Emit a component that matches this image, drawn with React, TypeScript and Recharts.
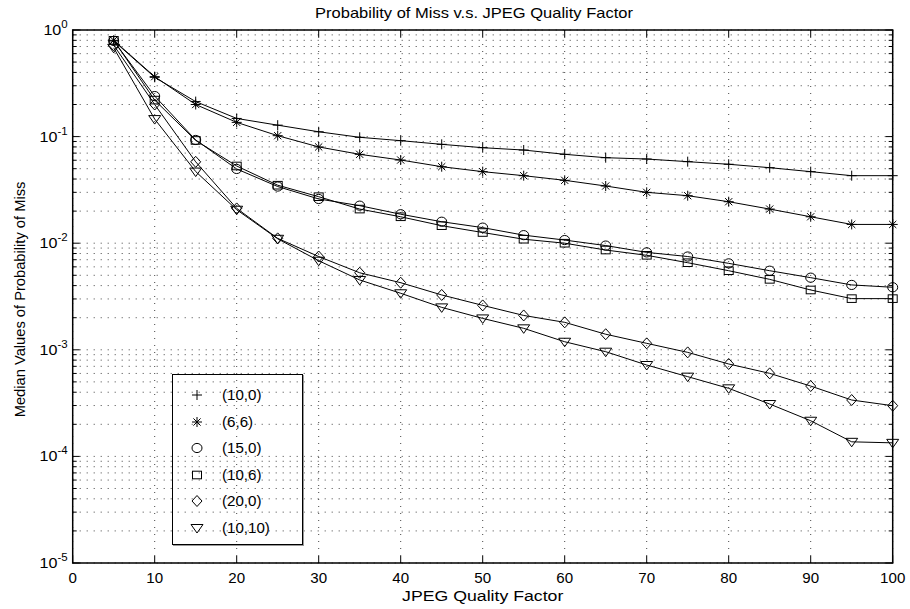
import {
  CartesianGrid,
  Label,
  Legend,
  Line,
  LineChart,
  ReferenceArea,
  XAxis,
  YAxis,
} from "recharts";

// JPEG quality factor (x)
const quality = [5, 10, 15, 20, 25, 30, 35, 40, 45, 50, 55, 60, 65, 70, 75, 80, 85, 90, 95, 100];

// median probability of miss, one list per (a,b) setting
const miss10_0 = [0.79, 0.36, 0.213, 0.148, 0.128, 0.111, 0.0985, 0.0916, 0.0846, 0.0787, 0.0748, 0.0682, 0.0634, 0.0616, 0.0582, 0.055, 0.0511, 0.0469, 0.043, 0.043];
const miss6_6 = [0.8, 0.365, 0.2, 0.136, 0.102, 0.08, 0.0682, 0.0603, 0.0522, 0.0469, 0.043, 0.0389, 0.0344, 0.03, 0.0279, 0.0245, 0.0209, 0.0177, 0.015, 0.015];
const miss15_0 = [0.79, 0.24, 0.093, 0.0497, 0.034, 0.026, 0.0225, 0.0187, 0.0159, 0.014, 0.0119, 0.0107, 0.0095, 0.0082, 0.0075, 0.00647, 0.00552, 0.00475, 0.00406, 0.00386];
const miss10_6 = [0.8, 0.22, 0.092, 0.053, 0.035, 0.0273, 0.0209, 0.0177, 0.0146, 0.0126, 0.0109, 0.01, 0.00863, 0.0077, 0.00656, 0.00552, 0.00458, 0.00364, 0.00302, 0.00302];
const miss20_0 = [0.72, 0.2, 0.058, 0.0212, 0.0111, 0.0075, 0.00528, 0.00426, 0.00327, 0.00261, 0.0021, 0.00181, 0.0014, 0.00115, 0.000946, 0.000736, 0.000601, 0.000457, 0.000338, 0.000299];
const miss10_10 = [0.68, 0.146, 0.047, 0.0206, 0.011, 0.00685, 0.00452, 0.00339, 0.0025, 0.00197, 0.00159, 0.00119, 0.00096, 0.00072, 0.00056, 0.000435, 0.00031, 0.000216, 0.000137, 0.000134];

const seriesNames = ["(10,0)", "(6,6)", "(15,0)", "(10,6)", "(20,0)", "(10,10)"];

const xTicks = [0, 10, 20, 30, 40, 50, 60, 70, 80, 90, 100];
const yDecades = [-5, -4, -3, -2, -1, 0];

const FONT = "'Liberation Sans', Arial, Helvetica, sans-serif";
const PLOT_TOP = 30;
const PLOT_RIGHT = 892.7;

const series = [
  { key: "s10_0", name: seriesNames[0], values: miss10_0, marker: "plus" },
  { key: "s6_6", name: seriesNames[1], values: miss6_6, marker: "star" },
  { key: "s15_0", name: seriesNames[2], values: miss15_0, marker: "circle" },
  { key: "s10_6", name: seriesNames[3], values: miss10_6, marker: "square" },
  { key: "s20_0", name: seriesNames[4], values: miss20_0, marker: "diamond" },
  { key: "s10_10", name: seriesNames[5], values: miss10_10, marker: "triangle" },
];

const data = quality.map((q, i) => {
  const row: Record<string, number> = { q };
  series.forEach((s) => {
    row[s.key] = s.values[i];
  });
  return row;
});

// log axis: majors at decades, minors 2..9
const yTicks = yDecades.flatMap((d) =>
  d === 0 ? [1] : [1, 2, 3, 4, 5, 6, 7, 8, 9].map((k) => k * Math.pow(10, d))
);

const Marker = ({ kind, cx, cy }: { kind: string; cx: number; cy: number }) => {
  const st = { stroke: "#000", strokeWidth: 1, fill: "none" };
  if (kind === "plus")
    return <path d={`M${cx - 5},${cy}H${cx + 5}M${cx},${cy - 5}V${cy + 5}`} {...st} />;
  if (kind === "star")
    return (
      <path
        d={`M${cx - 5},${cy}H${cx + 5}M${cx},${cy - 5}V${cy + 5}M${cx - 3.6},${cy - 3.6}L${cx + 3.6},${cy + 3.6}M${cx - 3.6},${cy + 3.6}L${cx + 3.6},${cy - 3.6}`}
        {...st}
      />
    );
  if (kind === "circle") return <ellipse cx={cx} cy={cy} rx={5} ry={4.6} {...st} />;
  if (kind === "square") return <rect x={cx - 4.5} y={cy - 3.8} width={9} height={7.6} {...st} />;
  if (kind === "diamond")
    return <path d={`M${cx},${cy - 5.5}L${cx + 5},${cy}L${cx},${cy + 5.5}L${cx - 5},${cy}Z`} {...st} />;
  return <path d={`M${cx - 6},${cy - 3.5}L${cx + 6},${cy - 3.5}L${cx},${cy + 5}Z`} {...st} />;
};

const XTick = (props: any) => {
  const { x, y, payload } = props;
  return (
    <g>
      <line x1={x} x2={x} y1={y} y2={y - 7} stroke="#000" />
      <line x1={x} x2={x} y1={PLOT_TOP} y2={PLOT_TOP + 7} stroke="#000" />
      <text
        transform={`translate(${x}, ${y + 20}) scale(1.08, 1)`}
        textAnchor="middle"
        fontSize={14}
        fontFamily={FONT}
        fill="#000"
      >
        {payload.value}
      </text>
    </g>
  );
};

const YTick = (props: any) => {
  const { x, y, payload } = props;
  const lg = Math.log10(payload.value);
  const e = Math.round(lg);
  const major = Math.abs(lg - e) < 1e-6;
  const len = major ? 7 : 4;
  return (
    <g>
      <line x1={x} x2={x + len} y1={y} y2={y} stroke="#000" />
      <line x1={PLOT_RIGHT} x2={PLOT_RIGHT - len} y1={y} y2={y} stroke="#000" />
      {major && (
        <text
          transform={`translate(${x - 5}, ${y + 5}) scale(1.15, 1)`}
          textAnchor="end"
          fontSize={14}
          fontFamily={FONT}
          fill="#000"
        >
          10
          <tspan dy={-7} fontSize={10}>
            {e}
          </tspan>
        </text>
      )}
    </g>
  );
};

const LegendBox = (props: any) => {
  const payload = [...(props.payload || [])].sort(
    (a: any, b: any) =>
      series.findIndex((s) => s.key === a.dataKey) - series.findIndex((s) => s.key === b.dataKey)
  );
  return (
    <div
      style={{
        width: 131,
        height: 171,
        border: "1px solid #000",
        boxSizing: "border-box",
        boxShadow: "1px 1px 0 #999",
        position: "relative",
        fontFamily: FONT,
        fontSize: 14,
      }}
    >
      {payload.map((p: any, i: number) => {
        const s = series.find((d) => d.key === p.dataKey);
        return (
          <div
            key={p.value}
            style={{ position: "absolute", left: 0, top: 9 + i * 26.6, height: 22, display: "flex", alignItems: "center" }}
          >
            <svg width={46} height={22}>
              <Marker kind={s ? s.marker : "plus"} cx={24} cy={11} />
            </svg>
            <span style={{ marginLeft: 3, display: "inline-block", transform: "scaleX(1.08)", transformOrigin: "left" }}>
              {p.value}
            </span>
          </div>
        );
      })}
    </div>
  );
};

const App = () => {
  return (
    <div style={{ position: "absolute", left: 0, top: 0, width: 910, height: 609, background: "#fff" }}>
      <div
        style={{
          position: "absolute",
          left: 474,
          top: 4,
          transform: "translateX(-50%) scaleX(1.1)",
          whiteSpace: "nowrap",
          fontFamily: FONT,
          fontSize: 15,
          lineHeight: "17px",
        }}
      >
        Probability of Miss v.s. JPEG Quality Factor
      </div>
      <LineChart width={910} height={609} data={data} margin={{ top: 30, right: 17.3, bottom: 0, left: 0 }}>
        <CartesianGrid stroke="#444" strokeDasharray="1 6" />
        <XAxis
          dataKey="q"
          type="number"
          domain={[0, 100]}
          ticks={xTicks}
          height={46}
          axisLine={false}
          tickLine={false}
          tickSize={0}
          tickMargin={0}
          tick={<XTick />}
        >
          <Label
            content={(p: any) => (
              <text
                transform={`translate(${p.viewBox.x + p.viewBox.width / 2}, ${p.viewBox.y + 38}) scale(1.18, 1)`}
                textAnchor="middle"
                fontSize={15}
                fontFamily={FONT}
                fill="#000"
              >
                JPEG Quality Factor
              </text>
            )}
          />
        </XAxis>
        <YAxis
          scale="log"
          domain={[1e-5, 1]}
          ticks={yTicks}
          allowDataOverflow
          width={72.7}
          axisLine={false}
          tickLine={false}
          tickSize={0}
          tickMargin={0}
          interval={0}
          tick={<YTick />}
        >
          <Label
            content={(p: any) => (
              <text
                transform={`translate(25, ${p.viewBox.y + p.viewBox.height / 2 + 3}) rotate(-90) scale(1.05, 1)`}
                textAnchor="middle"
                fontSize={14}
                fontFamily={FONT}
                fill="#000"
              >
                Median Values of Probability of Miss
              </text>
            )}
          />
        </YAxis>
        <ReferenceArea x1={0} x2={100} y1={1e-5} y2={1} fill="none" stroke="#000" strokeWidth={1.5} />
        <Legend
          layout="vertical"
          align="center"
          verticalAlign="middle"
          content={<LegendBox />}
          wrapperStyle={{ position: "absolute", left: 172, top: 374, width: 131, height: 171 }}
        />
        {series.map((s) => (
          <Line
            key={s.key}
            dataKey={s.key}
            name={s.name}
            type="linear"
            stroke="#000"
            strokeWidth={1}
            isAnimationActive={false}
            dot={(p: any) => <Marker key={`${s.key}-${p.index}`} kind={s.marker} cx={p.cx} cy={p.cy} />}
            activeDot={false}
          />
        ))}
      </LineChart>
    </div>
  );
};

export default App;
